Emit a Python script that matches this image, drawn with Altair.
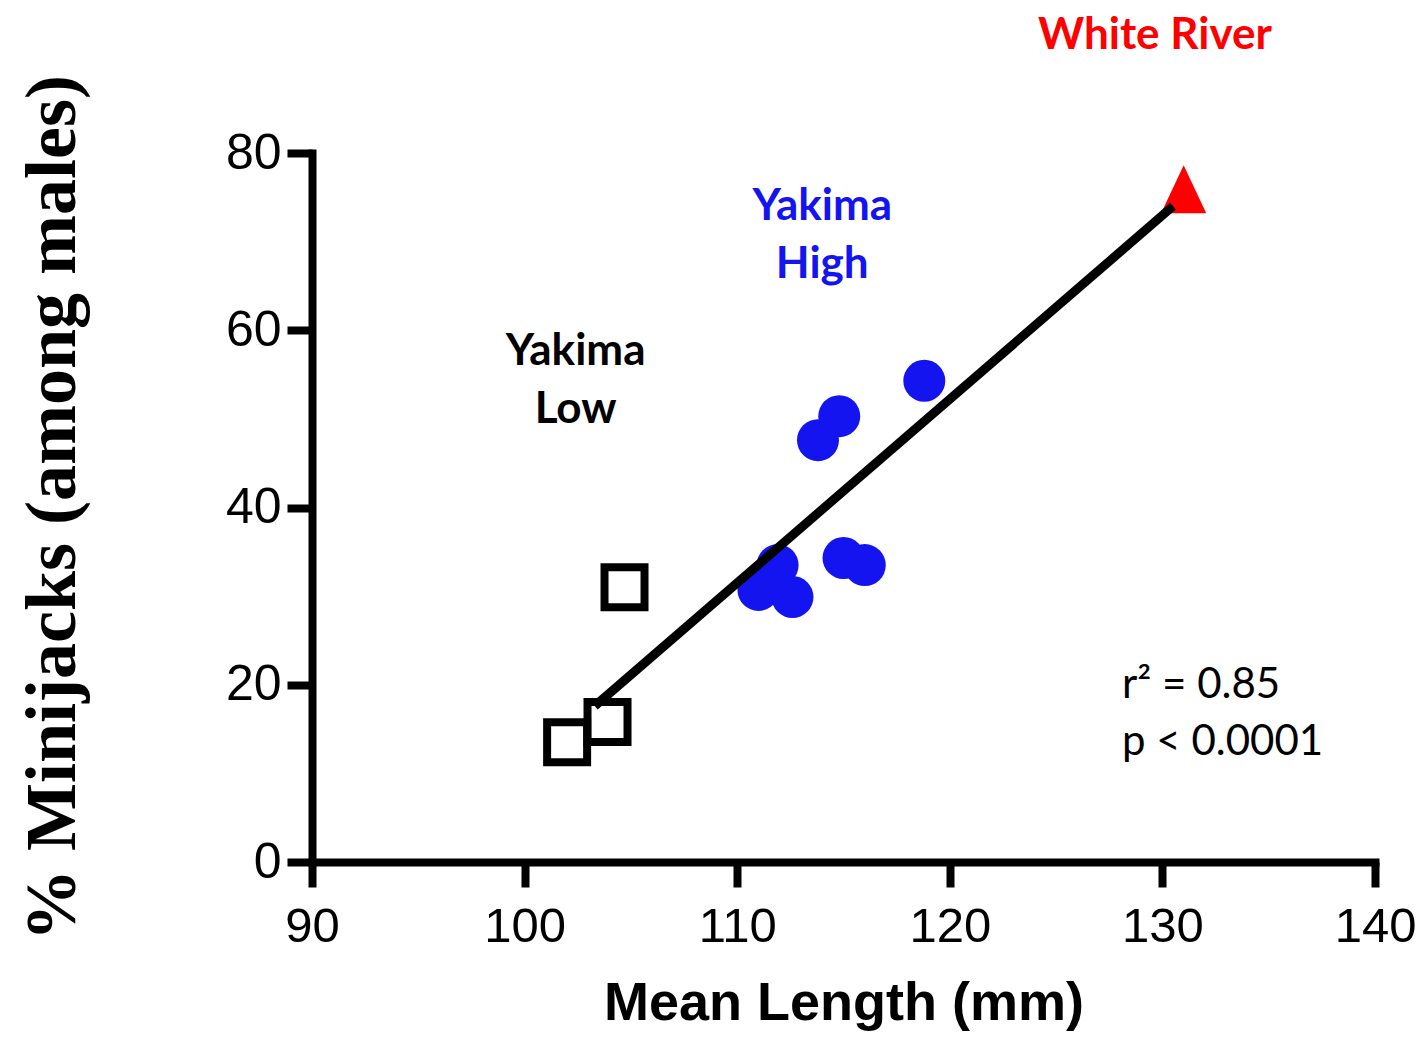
import altair as alt
import pandas as pd

# --- data ---
low_x = [102.0, 103.9, 104.7]
low_y = [13.5, 15.8, 31.0]

high_x = [111.0, 111.9, 112.6, 113.8, 114.8, 115.0, 116.0, 118.8]
high_y = [30.7, 33.5, 29.9, 47.6, 50.3, 34.3, 33.5, 54.3]

white_x = [131.0]
white_y = [75.9]

fit_x = [103.3, 130.5]
fit_y = [17.6, 74.0]

x_ticks = [90, 100, 110, 120, 130, 140]
y_ticks = [0, 20, 40, 60, 80]

labels_text = ["White River", "Yakima", "High", "Yakima", "Low"]
labels_x = [129.65, 114.0, 114.0, 102.4, 102.4]
labels_y = [93.2, 73.9, 67.4, 57.5, 51.0]
labels_color = ["#FF0000", "#1414F0", "#1414F0", "#000000", "#000000"]

stats_text = ["r² = 0.85", "p < 0.0001"]
stats_x = [128.1, 128.1]
stats_y = [20.0, 13.5]

low_df = pd.DataFrame({"x": low_x, "y": low_y})
high_df = pd.DataFrame({"x": high_x, "y": high_y})
white_df = pd.DataFrame({"x": white_x, "y": white_y})
fit_df = pd.DataFrame({"x": fit_x, "y": fit_y})
lab_df = pd.DataFrame({"t": labels_text, "x": labels_x, "y": labels_y, "c": labels_color})
stat_df = pd.DataFrame({"t": stats_text, "x": stats_x, "y": stats_y})

xscale = alt.Scale(domain=[90, 140], nice=False, zero=False)
yscale = alt.Scale(domain=[0, 80], nice=False, zero=False)

xenc = alt.X("x:Q", scale=xscale, axis=alt.Axis(
    values=x_ticks, title="Mean Length (mm)", titleFont="Liberation Sans",
    titleFontSize=54, titleFontWeight="bold", titlePadding=25,
    labelPadding=15, labelFlush=False, labelFontSize=49))
yenc = alt.Y("y:Q", scale=yscale, axis=alt.Axis(
    values=y_ticks, title="% Minijacks (among males)", titleFont="Liberation Serif",
    titleFontSize=72, titleFontWeight="bold", titlePadding=136,
    labelPadding=6, labelFontSize=50))

base_x = alt.X("x:Q", scale=xscale)
base_y = alt.Y("y:Q", scale=yscale)

low = alt.Chart(low_df).mark_point(
    shape="square", filled=False, stroke="black", strokeWidth=8, size=1600, opacity=1
).encode(x=xenc, y=yenc)

high = alt.Chart(high_df).mark_point(
    shape="circle", filled=True, fill="#1414F0", strokeWidth=0, size=1764, opacity=1
).encode(x=base_x, y=base_y)

white = alt.Chart(white_df).mark_point(
    shape="M0,-1L-0.94,1L0.94,1Z", filled=True, fill="#FF0000", strokeWidth=0,
    size=2304, opacity=1
).encode(x=base_x, y=base_y)

fit = alt.Chart(fit_df).mark_line(color="black", strokeWidth=9).encode(x=base_x, y=base_y)

labels = alt.Chart(lab_df).mark_text(
    font="Lato", fontWeight="bold", fontSize=44, align="center", baseline="middle"
).encode(x=base_x, y=base_y, text="t:N", color=alt.Color("c:N", scale=None))

stats = alt.Chart(stat_df).mark_text(
    font="Lato", fontSize=42, align="left", baseline="middle", color="black"
).encode(x=base_x, y=base_y, text="t:N")

chart = alt.layer(low, high, white, fit, labels, stats).properties(
    width=1063, height=709,
    background="white",
    autosize=alt.AutoSizeParams(type="none"),
    padding={"left": 304, "top": 145, "right": 42, "bottom": 173},
).configure_view(stroke=None).configure_axis(
    grid=False, domainColor="black", domainWidth=8, domainCap="square",
    tickColor="black", tickWidth=8, tickSize=25,
    labelFont="Liberation Sans", labelFontSize=48, labelColor="black",
    titleColor="black",
)

chart.save("out.html", embed_options={"renderer": "svg", "actions": False})
